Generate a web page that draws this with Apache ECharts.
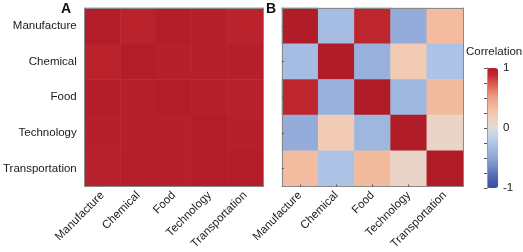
<!DOCTYPE html>
<html>
<head>
<meta charset="utf-8">
<script src="https://cdn.jsdelivr.net/npm/echarts@6/dist/echarts.min.js"></script>
<style>html,body{margin:0;padding:0;background:#fff}#c{width:523px;height:252px}</style>
</head>
<body>
<div id="c"></div>
<script>
const categories = ['Manufacture', 'Chemical', 'Food', 'Technology', 'Transportation'];
// Panel A correlation matrix (rows top->bottom, columns left->right)
const corrA = [
  [0.99, 0.94, 0.98, 0.96, 0.94],
  [0.94, 0.99, 0.96, 0.96, 0.97],
  [0.98, 0.96, 0.99, 0.96, 0.95],
  [0.96, 0.96, 0.96, 0.99, 0.96],
  [0.95, 0.97, 0.96, 0.98, 0.99]
];
// Panel B correlation matrix
const corrB = [
  [1.00, -0.32, 0.91, -0.45, 0.32],
  [-0.32, 1.00, -0.42, 0.20, -0.27],
  [0.91, -0.42, 1.00, -0.37, 0.33],
  [-0.45, 0.20, -0.37, 1.00, 0.11],
  [0.32, -0.27, 0.33, 0.11, 1.00]
];
const colorbarTicks = [-1, 0, 1];
const panelLabels = ['A', 'B'];
const colorbarTitle = 'Correlation';

function toCells(m) {
  const out = [];
  m.forEach((row, r) => row.forEach((v, c) => out.push([c, r, v])));
  return out;
}

const font = 'Liberation Sans, Arial, Helvetica, sans-serif';
const frame = {show: true, lineStyle: {color: '#8a8a8a', width: 1}};
const grids = [
  {left: 82, top: 8, width: 181, height: 181},
  {left: 282, top: 8, width: 181, height: 181},
  {left: 487, top: 68, width: 11, height: 120}
];

function catX(gi, showLabels) {
  return {
    type: 'category', data: categories, gridIndex: gi, position: 'bottom', z: 5,
    axisLine: frame,
    axisTick: {show: true, inside: true, length: 2, alignWithLabel: true, lineStyle: {color: '#555'}},
    axisLabel: {show: showLabels, rotate: 45, margin: 7, color: '#1a1a1a', fontSize: 11.5, fontFamily: font, interval: 0},
    splitLine: {show: false}
  };
}
function catXTop(gi) {
  return {type: 'category', data: categories, gridIndex: gi, position: 'top', z: 5,
    axisLine: frame, axisTick: {show: false}, axisLabel: {show: false}};
}
function catY(gi, showLabels) {
  return {
    type: 'category', data: categories, gridIndex: gi, inverse: true, position: 'left', z: 5,
    axisLine: frame,
    axisTick: {show: true, inside: true, length: 2, alignWithLabel: true, lineStyle: {color: '#555'}},
    axisLabel: {show: showLabels, margin: 8, color: '#1a1a1a', fontSize: 11.5, fontFamily: font, interval: 0},
    splitLine: {show: false}
  };
}
function catYRight(gi) {
  return {type: 'category', data: categories, gridIndex: gi, inverse: true, position: 'right', z: 5,
    axisLine: frame, axisTick: {show: false}, axisLabel: {show: false}};
}

const option = {
  animation: false,
  backgroundColor: '#fff',
  title: [
    {text: panelLabels[0], left: 61, top: 2, padding: 0, textStyle: {fontSize: 14, fontWeight: 'bold', fontFamily: font, color: '#111'}},
    {text: panelLabels[1], left: 266, top: 2, padding: 0, textStyle: {fontSize: 14, fontWeight: 'bold', fontFamily: font, color: '#111'}},
    {text: colorbarTitle, left: 466, top: 46, padding: 0, textStyle: {fontSize: 11.5, fontWeight: 'normal', fontFamily: font, color: '#1a1a1a'}}
  ],
  grid: grids,
  xAxis: [
    catX(0, true), catXTop(0),
    catX(1, true), catXTop(1),
    {type: 'value', gridIndex: 2, min: 0, max: 1, show: false}
  ],
  yAxis: [
    catY(0, true), catYRight(0),
    catY(1, false), catYRight(1),
    {type: 'value', gridIndex: 2, min: -1, max: 1, interval: 0.25, position: 'right', z: 5,
      axisLine: {show: true, lineStyle: {color: '#9a9a9a', width: 1}},
      axisTick: {show: true, inside: true, length: 3, lineStyle: {color: '#555'}},
      splitLine: {show: false},
      axisLabel: {show: true, margin: 5, color: '#1a1a1a', fontSize: 11.5, fontFamily: font,
        formatter: v => (colorbarTicks.indexOf(v) >= 0 ? String(v) : '')}},
    {type: 'value', gridIndex: 2, min: -1, max: 1, interval: 1, position: 'left', z: 5,
      axisLine: {show: true, lineStyle: {color: '#9a9a9a', width: 1}},
      axisTick: {show: false}, axisLabel: {show: false}, splitLine: {show: false}}
  ],
  visualMap: {
    type: 'continuous', min: -1, max: 1, calculable: false, seriesIndex: [0, 1],
    orient: 'vertical', left: 487, top: 68, itemWidth: 11, itemHeight: 120, padding: 0,
    inRange: {color: ['#3b4a9e', '#4a5dac', '#5d74ba', '#7590c9', '#8ca5d7', '#9db6df', '#afc5e7', '#c6d3e6',
      '#dedcdb', '#ecd2c4', '#f4c6ab', '#f3b597', '#efa284', '#e57e66', '#d6574b', '#c42a31', '#b01c28']}
  },
  series: [
    {type: 'heatmap', xAxisIndex: 0, yAxisIndex: 0, data: toCells(corrA), itemStyle: {borderWidth: 0}},
    {type: 'heatmap', xAxisIndex: 2, yAxisIndex: 2, data: toCells(corrB), itemStyle: {borderWidth: 0}}
  ]
};
const chart = echarts.init(document.getElementById('c'), null, {renderer: 'canvas'});
chart.setOption(option);
</script>
</body>
</html>
